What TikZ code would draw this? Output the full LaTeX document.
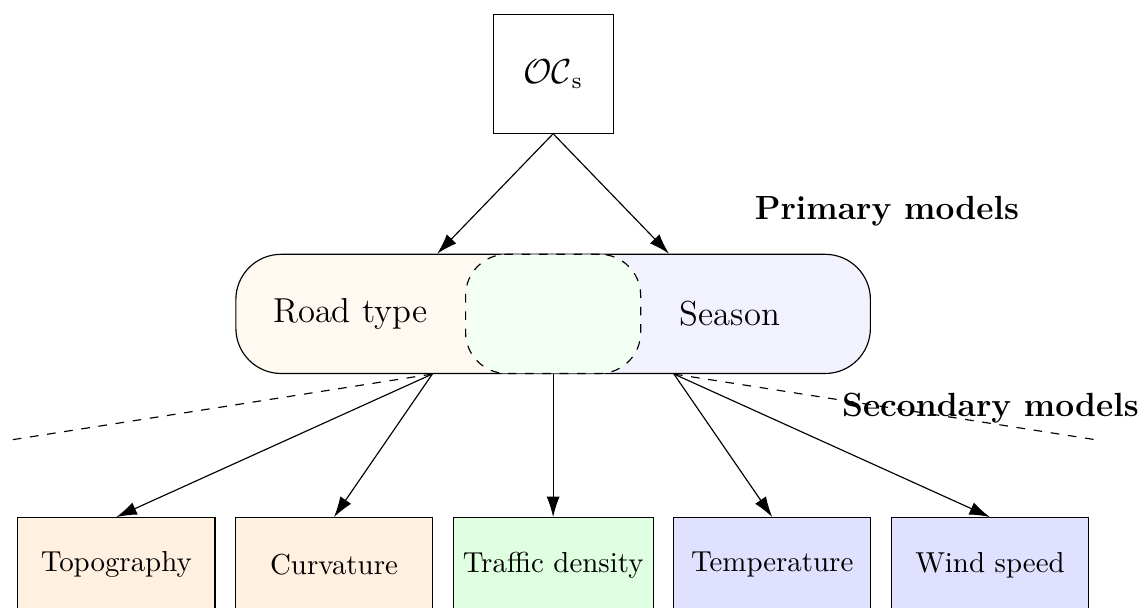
\documentclass[tikz,border=0pt]{standalone}
\usepackage{amsmath}
\usetikzlibrary{arrows.meta, positioning}

\begin{document}
\begin{tikzpicture}[
  node distance=0.235cm,
  outbox/.style={draw, minimum width=1.46cm, minimum height=1.44cm, font=\large},
  modelbox/.style={draw, minimum width=2.40cm, minimum height=1.15cm, font=\normalsize},
  grouplabel/.style={font=\fontsize{11.6}{14}\selectfont\bfseries},
  arr/.style={-{Latex[length=2.5mm, width=1.6mm]}},
  sep/.style={dashed}
]
  \useasboundingbox (-6.73,0.90) rectangle (7.14,-6.49);

  % Output node
  \node[outbox] (oc) at (0,0) {$\mathcal{OC}_{\mathrm{s}}$};

  % Primary models
  \node[draw, rounded corners=0.55cm, minimum width=7.72cm, minimum height=1.45cm,
        below=1.46cm of oc,
        path picture={
          \fill[orange!5] (path picture bounding box.south west) rectangle (path picture bounding box.north);
          \fill[blue!5] (path picture bounding box.south) rectangle (path picture bounding box.north east);
        }] (primary) {};
  \node[draw, dashed, rounded corners=0.5cm, fill=green!5, minimum width=2.13cm,
        minimum height=1.45cm] (overlap) at (primary.center) {};
  \node[font=\large, xshift=-2.47cm] (road) at (primary.center) {Road type};
  \node[font=\large, xshift=2.15cm] (season) at (primary.center) {Season};

  % Secondary models
  \node[modelbox, fill=green!12, below=1.74cm of primary] (traffic) {Traffic density};
  \node[modelbox, fill=orange!12, left=of traffic] (curv) {Curvature};
  \node[modelbox, fill=orange!12, left=of curv] (topo) {Topography};
  \node[modelbox, fill=blue!12, right=of traffic] (temp) {Temperature};
  \node[modelbox, fill=blue!12, right=of temp] (wind) {Wind speed};

  % Labels
  \node[grouplabel] (primlab) at (4.06,-1.67) {Primary models};
  \node[grouplabel] (seclab) at (5.32,-4.06) {Secondary models};

  % Anchor points
  \coordinate (pl) at ([xshift=-1.47cm]primary.south);
  \coordinate (pr) at ([xshift=1.47cm]primary.south);
  \coordinate (sepl) at (-6.58,-4.45);
  \coordinate (sepr) at (6.60,-4.45);

  % Arrows
  \draw[arr] (oc.south) -- ([xshift=-1.41cm]primary.north);
  \draw[arr] (oc.south) -- ([xshift=1.41cm]primary.north);

  \draw[sep] (pl) -- (sepl);
  \draw[sep] (pr) -- (sepr);

  \draw[arr] (pl) -- (topo.north);
  \draw[arr] (pl) -- (curv.north);
  \draw[arr] (primary.south) -- (traffic.north);
  \draw[arr] (pr) -- (temp.north);
  \draw[arr] (pr) -- (wind.north);
\end{tikzpicture}
\end{document}
